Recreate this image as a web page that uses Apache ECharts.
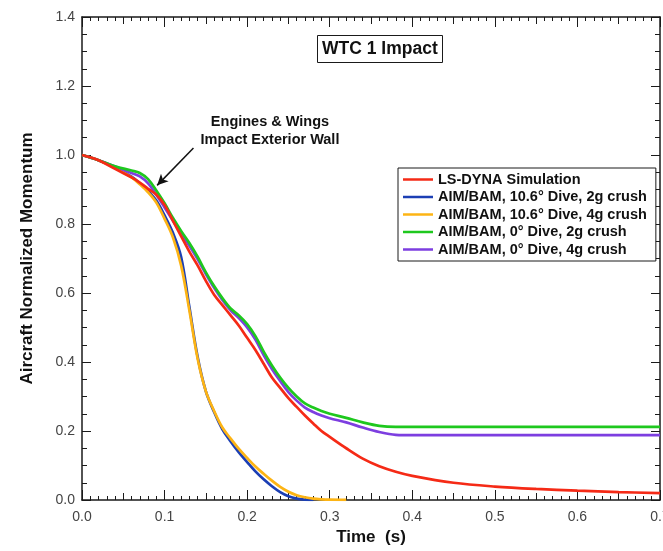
<!DOCTYPE html>
<html>
<head>
<meta charset="utf-8">
<script src="https://cdn.jsdelivr.net/npm/echarts@6/dist/echarts.min.js"></script>
<style>
html, body { margin: 0; padding: 0; background: #fff; }
#chart { width: 663px; height: 551px; }
</style>
</head>
<body>
<div id="chart"></div>
<script>
// time (s) shared by all curves
const time = [0, 0.02, 0.04, 0.06, 0.07, 0.08, 0.09, 0.10, 0.11, 0.12, 0.13, 0.14, 0.15, 0.16, 0.17, 0.18, 0.19, 0.20,
  0.21, 0.22, 0.23, 0.24, 0.25, 0.26, 0.27, 0.28, 0.29, 0.30, 0.32, 0.34, 0.36, 0.38, 0.40, 0.45, 0.50, 0.55, 0.60, 0.65, 0.70]

const lsDyna = [1.0, 0.985, 0.96, 0.935, 0.92, 0.902, 0.885, 0.855, 0.81, 0.765, 0.72, 0.68, 0.635, 0.595, 0.565, 0.535, 0.505, 0.47,
  0.435, 0.395, 0.355, 0.325, 0.295, 0.27, 0.245, 0.222, 0.2, 0.183, 0.15, 0.12, 0.098, 0.082, 0.07, 0.05, 0.039, 0.032, 0.027, 0.023, 0.02]
const dive106_2g = [1.0, 0.985, 0.964, 0.937, 0.918, 0.895, 0.868, 0.825, 0.775, 0.705, 0.56, 0.415, 0.315, 0.255, 0.205, 0.17, 0.138, 0.11,
  0.083, 0.06, 0.04, 0.023, 0.011, 0.004, 0.001, 0.0, null, null, null, null, null, null, null, null, null, null, null, null, null]
const dive106_4g = [1.0, 0.985, 0.963, 0.935, 0.915, 0.892, 0.862, 0.815, 0.762, 0.68, 0.55, 0.41, 0.315, 0.258, 0.21, 0.178, 0.148, 0.122,
  0.097, 0.076, 0.056, 0.038, 0.024, 0.014, 0.008, 0.004, 0.002, 0.001, 0.0005, null, null, null, null, null, null, null, null, null, null]
const dive0_2g = [1.0, 0.985, 0.967, 0.955, 0.948, 0.93, 0.897, 0.86, 0.818, 0.78, 0.745, 0.705, 0.66, 0.62, 0.585, 0.555, 0.535, 0.51,
  0.475, 0.43, 0.39, 0.355, 0.325, 0.3, 0.28, 0.268, 0.258, 0.25, 0.238, 0.225, 0.215, 0.212, 0.212, 0.212, 0.212, 0.212, 0.212, 0.212, 0.212]
const dive0_4g = [1.0, 0.985, 0.967, 0.948, 0.938, 0.918, 0.885, 0.848, 0.81, 0.772, 0.737, 0.698, 0.655, 0.615, 0.58, 0.55, 0.527, 0.5,
  0.465, 0.42, 0.38, 0.345, 0.313, 0.288, 0.268, 0.255, 0.245, 0.237, 0.225, 0.21, 0.197, 0.189, 0.188, 0.188, 0.188, 0.188, 0.188, 0.188, 0.188]

const seriesNames = ['LS-DYNA Simulation', 'AIM/BAM, 10.6° Dive, 2g crush', 'AIM/BAM, 10.6° Dive, 4g crush',
  'AIM/BAM, 0° Dive, 2g crush', 'AIM/BAM, 0° Dive, 4g crush']
const seriesColors = ['#f52a16', '#1c3fb4', '#fdb414', '#1ec81e', '#7d3ee0']

const annotationText = 'Engines & Wings\nImpact Exterior Wall'
const arrowFrom = [0.135, 1.02]
const arrowTo = [0.091, 0.912]

const chart = echarts.init(document.getElementById('chart'))

const lineCol = '#1a1a1a'
const tickLine = { color: lineCol, width: 1 }

function pairs(arr) {
  return time.map((t, i) => [t, arr[i]])
}

function line(idx, data, extra) {
  return Object.assign({
    name: seriesNames[idx],
    type: 'line',
    data: pairs(data),
    symbol: 'none',
    smooth: 0.35,
    lineStyle: { color: seriesColors[idx], width: 2.7 },
    itemStyle: { color: seriesColors[idx] }
  }, extra || {})
}

function xAx(position, interval, tickLen, main) {
  return {
    type: 'value',
    position: position,
    min: 0,
    max: 0.7,
    interval: interval,
    axisLine: { show: main, onZero: false, lineStyle: { color: lineCol, width: 1.5 } },
    axisTick: { show: true, inside: true, length: tickLen, lineStyle: tickLine },
    minorTick: { show: main, splitNumber: 10, length: 4, lineStyle: tickLine },
    splitLine: { show: false },
    axisLabel: {
      show: main && position === 'bottom',
      formatter: v => v.toFixed(1),
      color: '#444',
      fontSize: 14,
      margin: 10,
      fontFamily: 'Arial'
    }
  }
}

function yAx(position, main) {
  return {
    type: 'value',
    position: position,
    min: 0,
    max: 1.4,
    interval: 0.2,
    axisLine: { show: true, onZero: false, lineStyle: { color: lineCol, width: 1.5 } },
    axisTick: { show: true, inside: true, length: 9, lineStyle: tickLine },
    minorTick: { show: true, splitNumber: 4, length: 5, lineStyle: tickLine },
    splitLine: { show: false },
    axisLabel: {
      show: main,
      formatter: v => v.toFixed(1),
      color: '#444',
      fontSize: 14,
      margin: 7,
      fontFamily: 'Arial'
    }
  }
}

const xMain = xAx('bottom', 0.1, 10, true)
xMain.name = 'Time  (s)'
xMain.nameLocation = 'middle'
xMain.nameGap = 29
xMain.nameTextStyle = { fontWeight: 'bold', fontSize: 17, color: '#111', fontFamily: 'Arial' }

const yMain = yAx('left', true)
yMain.name = 'Aircraft Normalized Momentum'
yMain.nameLocation = 'middle'
yMain.nameGap = 46
yMain.nameTextStyle = { fontWeight: 'bold', fontSize: 17, color: '#111', fontFamily: 'Arial' }

const option = {
  animation: false,
  backgroundColor: '#fff',
  title: {
    text: 'WTC 1 Impact',
    left: 317,
    top: 35,
    padding: [4, 5, 4, 5],
    borderWidth: 1,
    borderColor: lineCol,
    textStyle: { fontSize: 17.5, fontWeight: 'bold', color: '#111', fontFamily: 'Arial', lineHeight: 20 }
  },
  legend: {
    data: seriesNames,
    orient: 'vertical',
    left: 398,
    top: 168,
    padding: [4, 9, 4, 5],
    itemGap: 2.5,
    itemWidth: 30,
    itemHeight: 2.5,
    icon: 'rect',
    borderColor: lineCol,
    borderWidth: 1,
    backgroundColor: '#fff',
    textStyle: { fontSize: 14.5, fontWeight: 'bold', color: '#111', fontFamily: 'Arial', lineHeight: 14 }
  },
  grid: { left: 82, right: 3, top: 17, bottom: 51, outerBoundsMode: 'none' },
  xAxis: [
    xMain,
    xAx('top', 0.1, 10, true),
    xAx('bottom', 0.05, 7, false),
    xAx('top', 0.05, 7, false)
  ],
  yAxis: [yMain, yAx('right', false)],
  graphic: [{
    type: 'text',
    x: 270,
    y: 113,
    style: {
      text: annotationText,
      textAlign: 'center',
      font: 'bold 14.5px Arial',
      lineHeight: 18,
      fill: '#111'
    }
  }],
  series: [
    line(1, dive106_2g),
    line(2, dive106_4g),
    line(4, dive0_4g),
    line(3, dive0_2g),
    line(0, lsDyna, {
      markLine: {
        silent: true,
        symbol: ['none', 'arrow'],
        symbolSize: [8, 11],
        label: { show: false },
        lineStyle: { color: '#111', width: 1.5, type: 'solid' },
        emphasis: { disabled: true },
        data: [[{ coord: arrowFrom }, { coord: arrowTo }]]
      }
    })
  ]
}

chart.setOption(option)
</script>
</body>
</html>
